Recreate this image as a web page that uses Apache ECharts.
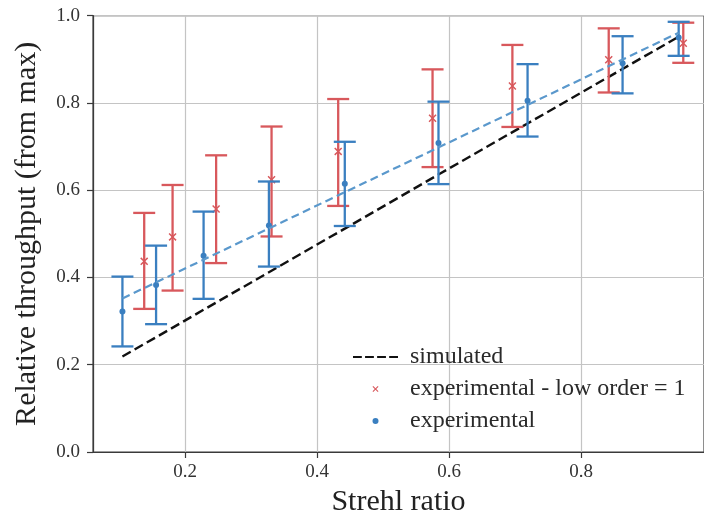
<!DOCTYPE html>
<html>
<head>
<meta charset="utf-8">
<script src="https://cdn.jsdelivr.net/npm/echarts@6/dist/echarts.min.js"></script>
<style>
  html, body { margin: 0; padding: 0; background: #fff; }
  #chart { width: 704px; height: 522px; }
</style>
</head>
<body>
<div id="chart"></div>
<script>
// Strehl ratio of each measurement (x) and relative throughput with error range
const expStrehl = [0.105, 0.156, 0.228, 0.327, 0.442, 0.584, 0.719, 0.863, 0.948];
const expThroughput = [0.322, 0.383, 0.450, 0.519, 0.615, 0.708, 0.805, 0.891, 0.950];
const expHigh = [0.402, 0.473, 0.551, 0.620, 0.711, 0.803, 0.889, 0.953, 0.986];
const expLow = [0.242, 0.293, 0.351, 0.425, 0.518, 0.614, 0.723, 0.822, 0.908];

// Low order = 1 measurements
const loStrehl = [0.138, 0.181, 0.247, 0.331, 0.432, 0.575, 0.696, 0.842, 0.955];
const loThroughput = [0.437, 0.493, 0.557, 0.624, 0.689, 0.765, 0.839, 0.899, 0.937];
const loHigh = [0.548, 0.612, 0.680, 0.746, 0.809, 0.877, 0.933, 0.971, 0.984];
const loLow = [0.328, 0.370, 0.433, 0.494, 0.564, 0.653, 0.745, 0.824, 0.892];

// Simulated throughput at the measured Strehl ratios
const simStrehl = [0.105, 0.156, 0.228, 0.327, 0.442, 0.584, 0.719, 0.863, 0.948];
const simThroughput = [0.219, 0.263, 0.326, 0.412, 0.512, 0.636, 0.753, 0.878, 0.952];

// Linear fit through the experimental points (end points)
const fitStrehl = [0.105, 0.948];
const fitThroughput = [0.352, 0.961];

const yTicks = [0, 0.2, 0.4, 0.6, 0.8, 1.0];

const RED = '#d8585c';
const BLUE = '#3a7fc0';
const FIT_BLUE = '#5a98cc';
const FONT = 'Liberation Serif';

const zip = (a, b) => a.map((v, i) => [v, b[i]]);
const errData = (xs, lo, hi) => xs.map((v, i) => [v, lo[i], hi[i]]);

function errorBar(color) {
  return function (params, api) {
    const x = api.value(0);
    const pLow = api.coord([x, api.value(1)]);
    const pHigh = api.coord([x, api.value(2)]);
    const half = 11;
    const style = { stroke: color, lineWidth: 2.3, fill: null };
    return {
      type: 'group',
      children: [
        { type: 'line', shape: { x1: pLow[0], y1: pLow[1], x2: pHigh[0], y2: pHigh[1] }, style },
        { type: 'line', shape: { x1: pHigh[0] - half, y1: pHigh[1], x2: pHigh[0] + half, y2: pHigh[1] }, style },
        { type: 'line', shape: { x1: pLow[0] - half, y1: pLow[1], x2: pLow[0] + half, y2: pLow[1] }, style }
      ]
    };
  };
}

const crossPath = 'path://M0,1.3L1.3,0L5,3.7L8.7,0L10,1.3L6.3,5L10,8.7L8.7,10L5,6.3L1.3,10L0,8.7L3.7,5Z';
// dashed-line swatch for the legend
const dashPath = 'path://M0,0H9V2H0Z M12.3,0H21.3V2H12.3Z M24.6,0H33.6V2H24.6Z M36.9,0H45.9V2H36.9Z';

const chart = echarts.init(document.getElementById('chart'), null, { renderer: 'canvas' });

chart.setOption({
  animation: false,
  backgroundColor: '#ffffff',
  textStyle: { fontFamily: FONT },
  grid: {
    left: 93, top: 15.7, right: -2, bottom: 69.5,
    show: true, borderColor: '#3a3a3a', borderWidth: 1.2, backgroundColor: 'transparent'
  },
  legend: {
    orient: 'vertical',
    left: 348, top: 340,
    itemWidth: 45, itemHeight: 6, itemGap: 8,
    data: [
      { name: 'simulated', icon: dashPath, itemStyle: { color: '#111' } },
      { name: 'experimental - low order = 1' },
      { name: 'experimental' }
    ],
    textStyle: { fontFamily: FONT, fontSize: 24, color: '#2a2a2a', padding: [0, 0, 0, 7] }
  },
  xAxis: {
    type: 'value',
    min: 0.0604, max: 0.9864,
    splitNumber: 5,
    name: 'Strehl ratio',
    nameLocation: 'middle',
    nameGap: 35,
    nameTextStyle: { fontFamily: FONT, fontSize: 30, color: '#222' },
    axisLine: { show: true, lineStyle: { color: '#3a3a3a', width: 1.2 } },
    axisTick: { show: true, inside: false, length: 6, lineStyle: { color: '#3a3a3a', width: 1.2 } },
    axisLabel: {
      showMinLabel: false, showMaxLabel: false, margin: 11,
      fontFamily: FONT, fontSize: 19, color: '#333',
      formatter: v => v.toFixed(1)
    },
    splitLine: { show: true, lineStyle: { color: '#c4c4c4', width: 1.2 } }
  },
  yAxis: {
    type: 'value',
    min: yTicks[0], max: yTicks[yTicks.length - 1], interval: 0.2,
    name: 'Relative throughput (from max)',
    nameLocation: 'middle',
    nameRotate: 90,
    nameGap: 51,
    nameTextStyle: { fontFamily: FONT, fontSize: 30, color: '#222' },
    axisLine: { show: true, lineStyle: { color: '#3a3a3a', width: 1.2 } },
    axisTick: { show: true, inside: false, length: 6, lineStyle: { color: '#3a3a3a', width: 1.2 } },
    axisLabel: {
      margin: 13, fontFamily: FONT, fontSize: 19, color: '#333',
      formatter: v => v.toFixed(1)
    },
    splitLine: { show: true, lineStyle: { color: '#c4c4c4', width: 1.2 } }
  },
  series: [
    {
      name: 'simulated',
      type: 'line',
      data: zip(simStrehl, simThroughput),
      symbol: 'none',
      lineStyle: { color: '#111', width: 2.4, type: [9.5, 4.5] },
      itemStyle: { color: '#111' },
      z: 3
    },
    {
      name: 'lowErr',
      type: 'custom',
      data: errData(loStrehl, loLow, loHigh),
      renderItem: errorBar(RED),
      encode: { x: 0, y: [1, 2] },
      z: 4
    },
    {
      name: 'experimental - low order = 1',
      type: 'scatter',
      data: zip(loStrehl, loThroughput),
      symbol: crossPath,
      symbolSize: 8,
      itemStyle: { color: RED, opacity: 1 },
      z: 5
    },
    {
      name: 'expErr',
      type: 'custom',
      data: errData(expStrehl, expLow, expHigh),
      renderItem: errorBar(BLUE),
      encode: { x: 0, y: [1, 2] },
      z: 6
    },
    {
      name: 'experimental',
      type: 'scatter',
      data: zip(expStrehl, expThroughput),
      symbol: 'circle',
      symbolSize: 6,
      itemStyle: { color: BLUE, opacity: 1 },
      z: 7
    },
    {
      name: 'fit',
      type: 'line',
      data: zip(fitStrehl, fitThroughput),
      symbol: 'none',
      lineStyle: { color: FIT_BLUE, width: 2.2, type: [8, 4.5] },
      z: 8
    }
  ]
});
</script>
</body>
</html>
